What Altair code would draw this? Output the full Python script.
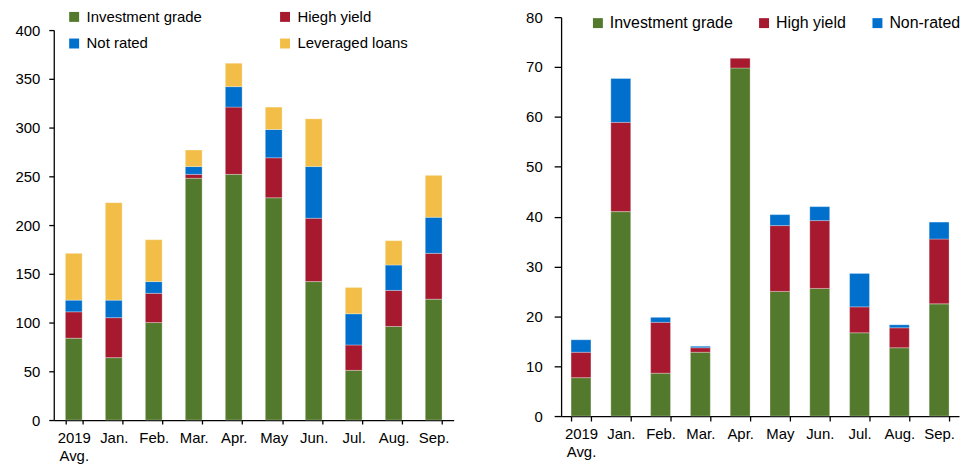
import altair as alt
import pandas as pd

categories = ["2019 Avg.", "Jan.", "Feb.", "Mar.", "Apr.", "May", "Jun.", "Jul.", "Aug.", "Sep."]

left_series = ["Investment grade", "Hiegh yield", "Not rated", "Leveraged loans"]
left_ig = [84, 64, 100, 248, 252, 228, 142, 51, 96, 124]
left_hy = [27, 41, 30, 4, 69, 41, 65, 26, 37, 47]
left_nr = [12, 18, 12, 8, 21, 29, 53, 32, 26, 37]
left_ll = [48, 100, 43, 17, 24, 23, 49, 27, 25, 43]

right_series = ["Investment grade", "High yield", "Non-rated"]
right_ig = [7.7, 41.0, 8.6, 12.8, 69.8, 25.0, 25.6, 16.7, 13.7, 22.5]
right_hy = [5.1, 17.9, 10.2, 0.9, 2.0, 13.2, 13.6, 5.2, 4.0, 13.0]
right_nr = [2.5, 8.8, 1.0, 0.3, 0.0, 2.2, 2.8, 6.7, 0.6, 3.4]

colors_left = ["#537A2C", "#A6192E", "#0070CC", "#F2BE48"]
colors_right = ["#537A2C", "#A6192E", "#0070CC"]

# legend laid out column-wise: IG, Not rated | Hiegh yield, Leveraged loans
left_legend_order = [0, 2, 1, 3]

FONT = "Liberation Sans"


def long_df(series_names, arrays):
    rows = []
    for i, (name, vals) in enumerate(zip(series_names, arrays)):
        for c, v in zip(categories, vals):
            rows.append({"cat": c, "series": name, "idx": i, "v": v})
    return pd.DataFrame(rows)


left_df = long_df(left_series, [left_ig, left_hy, left_nr, left_ll])
right_df = long_df(right_series, [right_ig, right_hy, right_nr])

label_expr = "datum.value == '2019 Avg.' ? ['2019', 'Avg.'] : datum.value"

LH = 405  # left group height
LTOP = 13  # left plot starts lower than the right one

left = alt.Chart(left_df).mark_bar(
    stroke="white", strokeWidth=0.5, strokeOpacity=0.6
).encode(
    x=alt.X(
        "cat:N", sort=categories,
        scale=alt.Scale(paddingInner=0.58, paddingOuter=0.29),
        axis=alt.Axis(title=None, labelAngle=0, labelExpr=label_expr, tickBand="extent",
                      tickSize=4, labelPadding=7, labelLineHeight=18, labelFontSize=15),
    ),
    y=alt.Y(
        "v:Q", stack="zero",
        scale=alt.Scale(domain=[0, 400], nice=False, range=[LH, LTOP]),
        axis=alt.Axis(title=None, values=list(range(0, 401, 50)), grid=False,
                      tickSize=5, labelPadding=9, labelFontSize=15),
    ),
    color=alt.Color(
        "series:N",
        scale=alt.Scale(domain=[left_series[i] for i in left_legend_order],
                        range=[colors_left[i] for i in left_legend_order]),
        legend=alt.Legend(orient="none", legendX=13, legendY=-8, columns=2,
                          columnPadding=76, rowPadding=11, symbolType="square",
                          symbolSize=100, symbolStrokeWidth=0, labelFontSize=15,
                          labelOffset=5, title=None, padding=0),
    ),
    order=alt.Order("idx:Q", sort="ascending"),
).properties(width=402, height=LH)

right = alt.Chart(right_df).mark_bar(
    stroke="white", strokeWidth=0.5, strokeOpacity=0.6
).encode(
    x=alt.X(
        "cat:N", sort=categories,
        scale=alt.Scale(paddingInner=0.5, paddingOuter=0.25),
        axis=alt.Axis(title=None, labelAngle=0, labelExpr=label_expr, tickBand="extent",
                      tickSize=5, labelPadding=6, labelLineHeight=18, labelFontSize=15),
    ),
    y=alt.Y(
        "v:Q", stack="zero",
        scale=alt.Scale(domain=[0, 80], nice=False),
        axis=alt.Axis(title=None, values=list(range(0, 81, 10)), grid=False,
                      tickSize=7, labelPadding=12, labelFontSize=15),
    ),
    color=alt.Color(
        "series:N",
        scale=alt.Scale(domain=right_series, range=colors_right),
        legend=alt.Legend(orient="none", legendX=29, legendY=-2, columns=3,
                          columnPadding=23, symbolType="square",
                          symbolSize=100, symbolStrokeWidth=0, labelFontSize=16,
                          labelOffset=4, title=None, padding=0),
    ),
    order=alt.Order("idx:Q", sort="ascending"),
).properties(width=400, height=401)

chart = alt.hconcat(left, right, spacing=72).resolve_scale(
    color="independent"
).resolve_legend(color="independent").properties(
    padding={"left": 6, "top": 0, "right": 0, "bottom": 0}
).configure_view(stroke=None).configure_axis(
    domainColor="black", tickColor="black", labelColor="black",
    labelFont=FONT, domainWidth=1.3, tickWidth=1.3,
).configure_legend(labelFont=FONT, labelColor="black")

chart.save("out.html", embed_options={"renderer": "svg", "actions": False})
